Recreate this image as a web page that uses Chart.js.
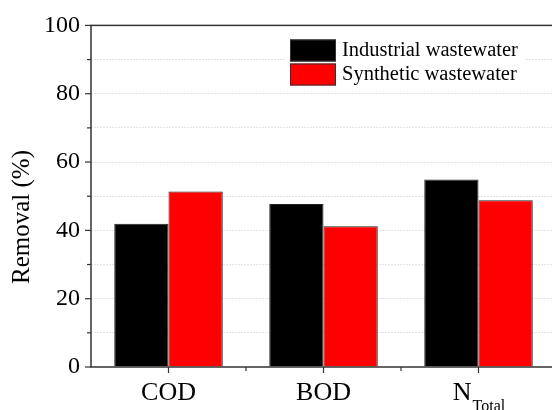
<!DOCTYPE html>
<html>
<head>
<meta charset="utf-8">
<script src="https://cdn.jsdelivr.net/npm/chart.js@4.4.1/dist/chart.umd.min.js"></script>
<style>
  html, body { margin: 0; padding: 0; overflow: hidden; background: #fff; width: 552px; height: 410px; }
  canvas { display: block; }
</style>
</head>
<body>
<canvas id="c" width="560" height="410"></canvas>
<script>
// Categories ("_" marks a subscript part of the label)
const categories = ['COD', 'BOD', 'N_Total'];
const seriesNames = ['Industrial wastewater', 'Synthetic wastewater'];
// Removal efficiency, %
const industrial = [41.9, 47.7, 54.9];
const synthetic = [51.4, 41.2, 48.8];
const yTicks = [0, 20, 40, 60, 80, 100];
const yTitle = 'Removal (%)';

const SERIF = '"Liberation Serif", "Times New Roman", serif';
const AXIS = '#333333';

// Frame, tick marks, category labels, axis title and legend
const decorPlugin = {
  id: 'decor',
  afterDraw(chart) {
    const { ctx, chartArea: a, scales: { x, y } } = chart;
    ctx.save();

    // axis frame
    ctx.strokeStyle = AXIS;
    ctx.lineWidth = 1.5;
    ctx.strokeRect(a.left, a.top, a.right - a.left, a.bottom - a.top);

    // y tick marks (major with labels, minor between)
    ctx.lineWidth = 1.2;
    y.ticks.forEach(t => {
      const py = y.getPixelForValue(t.value);
      const len = yTicks.includes(t.value) ? 6 : 4;
      ctx.beginPath();
      ctx.moveTo(a.left - len, py);
      ctx.lineTo(a.left, py);
      ctx.stroke();
    });

    // x tick marks: major at category centres, minor at boundaries
    categories.forEach((c, i) => {
      const px = x.getPixelForValue(i);
      ctx.beginPath();
      ctx.moveTo(px, a.bottom);
      ctx.lineTo(px, a.bottom + 6);
      ctx.stroke();
    });
    for (let i = 1; i < categories.length; i++) {
      const px = x.getPixelForValue(i - 0.5);
      ctx.beginPath();
      ctx.moveTo(px, a.bottom);
      ctx.lineTo(px, a.bottom + 4);
      ctx.stroke();
    }

    // category labels with optional subscript
    ctx.fillStyle = '#000';
    ctx.textBaseline = 'alphabetic';
    ctx.textAlign = 'left';
    categories.forEach((c, i) => {
      const [main, sub] = c.split('_');
      const px = x.getPixelForValue(i);
      ctx.font = '26px ' + SERIF;
      const wMain = ctx.measureText(main).width;
      let wSub = 0;
      if (sub) {
        ctx.font = '16px ' + SERIF;
        wSub = ctx.measureText(sub).width;
      }
      const x0 = px - (wMain + wSub) / 2;
      ctx.font = '26px ' + SERIF;
      ctx.fillText(main, x0, a.bottom + 33);
      if (sub) {
        ctx.font = '16px ' + SERIF;
        ctx.fillText(sub, x0 + wMain + 1, a.bottom + 44);
      }
    });

    // y axis title
    ctx.save();
    ctx.translate(22, 217);
    ctx.rotate(-Math.PI / 2);
    ctx.textAlign = 'center';
    ctx.textBaseline = 'middle';
    ctx.font = '25px ' + SERIF;
    ctx.fillText(yTitle, 0, 0);
    ctx.restore();

    // legend
    ctx.fillStyle = '#fff';
    ctx.fillRect(285, 35, 241, 53);
    const ds = chart.data.datasets;
    ds.forEach((d, i) => {
      const top = 39.5 + i * 24;
      ctx.fillStyle = d.backgroundColor;
      ctx.fillRect(290, top, 46, 22);
      ctx.strokeStyle = AXIS;
      ctx.lineWidth = 1;
      ctx.strokeRect(290.5, top + 0.5, 45, 21);
      ctx.fillStyle = '#000';
      ctx.font = '20.5px ' + SERIF;
      ctx.textAlign = 'left';
      ctx.textBaseline = 'middle';
      ctx.fillText(d.label, 342, top + 11.5);
    });

    ctx.restore();
  }
};

new Chart(document.getElementById('c'), {
  type: 'bar',
  data: {
    labels: categories,
    datasets: [
      { label: seriesNames[0], data: industrial, backgroundColor: '#000000', borderColor: '#222222', borderWidth: 1 },
      { label: seriesNames[1], data: synthetic, backgroundColor: '#ff0000', borderColor: '#222222', borderWidth: 1 }
    ]
  },
  options: {
    responsive: false,
    animation: false,
    devicePixelRatio: 1,
    layout: { padding: { left: 0, right: 4, top: 22, bottom: 0 } },
    datasets: { bar: { categoryPercentage: 0.7, barPercentage: 1.0 } },
    plugins: { legend: { display: false }, tooltip: { enabled: false } },
    scales: {
      x: {
        type: 'category',
        offset: true,
        grid: { display: false },
        border: { display: false },
        ticks: { display: false },
        afterFit(s) { s.height = 43; }
      },
      y: {
        min: 0,
        max: 100,
        ticks: {
          stepSize: 10,
          autoSkip: false,
          callback: v => (yTicks.includes(v) ? String(v) : ''),
          font: { family: SERIF, size: 24 },
          color: '#000',
          padding: 11
        },
        grid: {
          drawTicks: false,
          lineWidth: 1,
          color: c => (c.tick && (c.tick.value === 0 || c.tick.value === 100)) ? 'rgba(0,0,0,0)' : '#e4e4e4'
        },
        border: { display: false, dash: [2, 1] },
        afterFit(s) { s.width = 91; }
      }
    }
  },
  plugins: [decorPlugin]
});
</script>
</body>
</html>
